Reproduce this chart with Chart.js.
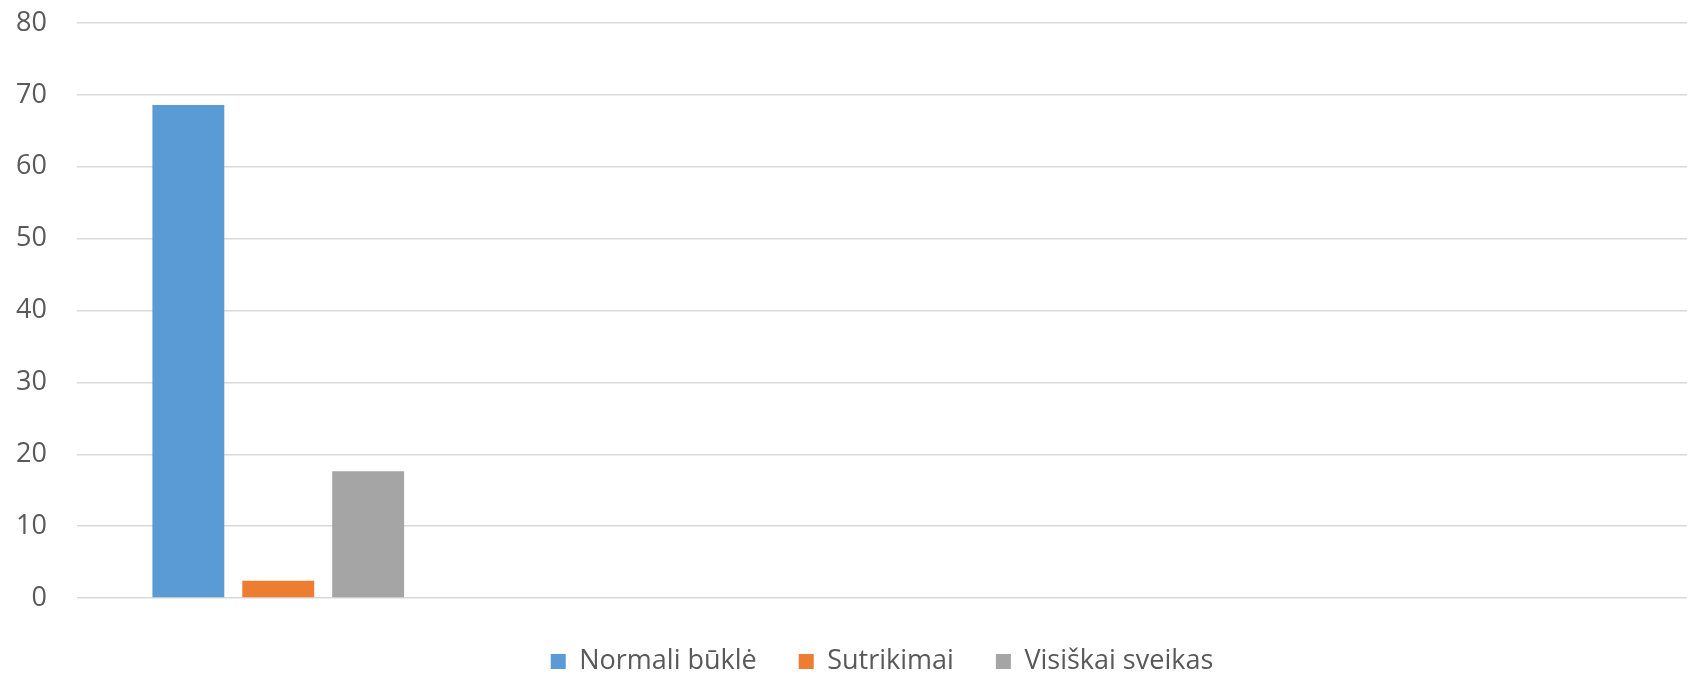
<!DOCTYPE html>
<html lang="lt">
<head>
    <meta charset="UTF-8">
    <title>Būklė</title>
    <script src="https://cdn.jsdelivr.net/npm/chart.js"></script>
    <style>
        * { margin: 0; padding: 0; box-sizing: border-box; }
        body { background: #fff; width: 1688px; height: 676px; overflow: hidden; }
        #wrap { position: relative; width: 1688px; height: 676px; }
    </style>
</head>
<body>
    <div id="wrap">
        <canvas id="grafikas"></canvas>
    </div>

    <script>
        // duomenys
        const kategorijos = ['', '', '', ''];
        const normaliBukle = [68.6];
        const sutrikimai = [2.4];
        const visiskaiSveikas = [17.65];
        const yTicks = [0, 10, 20, 30, 40, 50, 60, 70, 80];

        const pilka = '#595959';

        // legenda centruojama pagal braižymo sritį, ne pagal visą drobę
        const legendaPagalSriti = {
            id: 'legendaPagalSriti',
            afterLayout(chart) {
                const l = chart.legend;
                if (!l) return;
                l.left = chart.chartArea.left;
                l.right = chart.chartArea.right;
            }
        };

        new Chart(document.getElementById('grafikas'), {
            type: 'bar',
            data: {
                labels: kategorijos,
                datasets: [
                    { label: 'Normali būklė', data: normaliBukle, backgroundColor: '#5B9BD5' },
                    { label: 'Sutrikimai', data: sutrikimai, backgroundColor: '#ED7D31' },
                    { label: 'Visiškai sveikas', data: visiskaiSveikas, backgroundColor: '#A5A5A5' }
                ]
            },
            options: {
                responsive: true,
                maintainAspectRatio: false,
                animation: false,
                layout: { padding: { top: 23, right: 1, bottom: -9, left: 0 } },
                datasets: {
                    bar: { categoryPercentage: 0.67, barPercentage: 0.8 }
                },
                plugins: {
                    tooltip: { enabled: false },
                    legend: {
                        position: 'bottom',
                        labels: {
                            color: pilka,
                            boxWidth: 15,
                            boxHeight: 15,
                            padding: 42,
                            font: { family: "'Open Sans', sans-serif", size: 27 }
                        }
                    }
                },
                scales: {
                    x: {
                        grid: { display: false },
                        border: { display: false },
                        ticks: { display: false },
                        afterFit: (axis) => { axis.height = 8; }
                    },
                    y: {
                        min: 0,
                        max: 80,
                        afterBuildTicks: (axis) => { axis.ticks = yTicks.map(v => ({ value: v })); },
                        afterFit: (axis) => {
                            axis.width = 77;
                            axis.paddingTop = 0;
                            axis.paddingBottom = 0;
                        },
                        grid: { color: '#d9d9d9', lineWidth: 1.5, drawTicks: false },
                        border: { display: false },
                        ticks: {
                            color: pilka,
                            padding: 30,
                            font: { family: "'Open Sans', sans-serif", size: 27 }
                        }
                    }
                }
            },
            plugins: [legendaPagalSriti]
        });
    </script>
</body>
</html>
